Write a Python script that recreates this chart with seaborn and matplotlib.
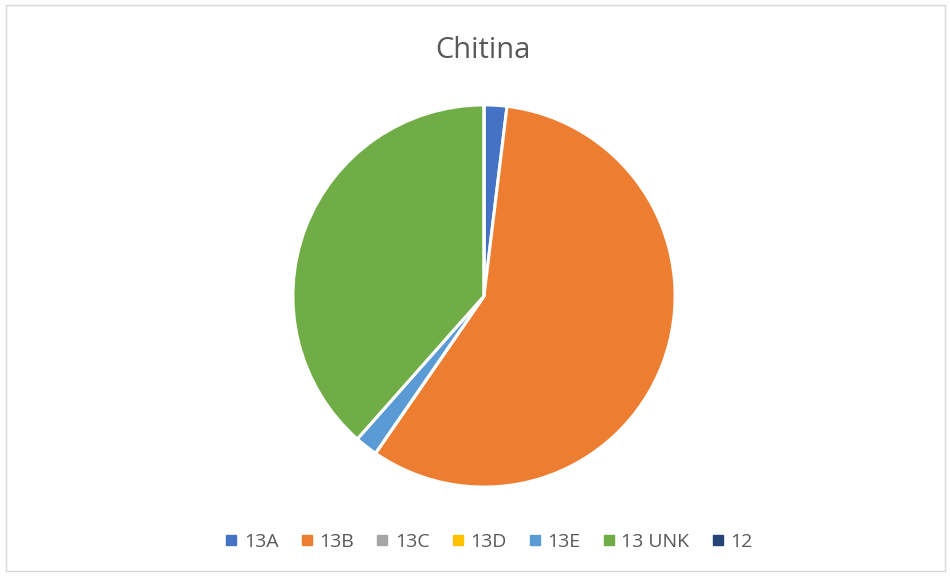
import matplotlib
matplotlib.use("Agg")
import matplotlib.pyplot as plt
from matplotlib.lines import Line2D
from matplotlib.patches import Rectangle
import seaborn as sns

categories = ["13A", "13B", "13C", "13D", "13E", "13 UNK", "12"]
counts = [1, 30, 0, 0, 1, 20, 0]
colors = ["#4472C4", "#ED7D31", "#A5A5A5", "#FFC000", "#5B9BD5", "#70AD47", "#264478"]
title = "Chitina"

sns.set_theme(style="white")
plt.rcParams["font.family"] = ["Open Sans", "DejaVu Sans"]

fig = plt.figure(figsize=(9.5, 5.76), dpi=100)
fig.patch.set_facecolor("white")

# chart border
fig.add_artist(Rectangle((6 / 950, 1 - 571 / 576), 939 / 950, 566 / 576,
                         transform=fig.transFigure, fill=False,
                         edgecolor="#D9D9D9", linewidth=1))

cx, cy, r = 484, 296, 193
ax = fig.add_axes([(cx - r) / 950, (576 - cy - r) / 576, 2 * r / 950, 2 * r / 576])
pal = sns.color_palette(colors)
ax.pie(counts, colors=pal, startangle=90, counterclock=False,
       wedgeprops=dict(edgecolor="white", linewidth=2.2, joinstyle="miter"),
       radius=1.0)
ax.set_xlim(-1.01, 1.01)
ax.set_ylim(-1.01, 1.01)
ax.set_aspect("auto")
ax.axis("off")

fig.text(483 / 950, 1 - 51 / 576, title, ha="center", va="center",
         fontsize=21, color="#595959")

handles = [Line2D([0], [0], marker="s", linestyle="none", markersize=7,
                  markerfacecolor=c, markeredgecolor=c) for c in pal]
fig.legend(handles, categories, loc="center", bbox_to_anchor=(488 / 950, 1 - 542 / 576),
           ncol=7, frameon=False, fontsize=14, handletextpad=0.25,
           columnspacing=1.05, handlelength=0.8, labelcolor="#595959")

fig.savefig("out.png", dpi=100, facecolor="white")
